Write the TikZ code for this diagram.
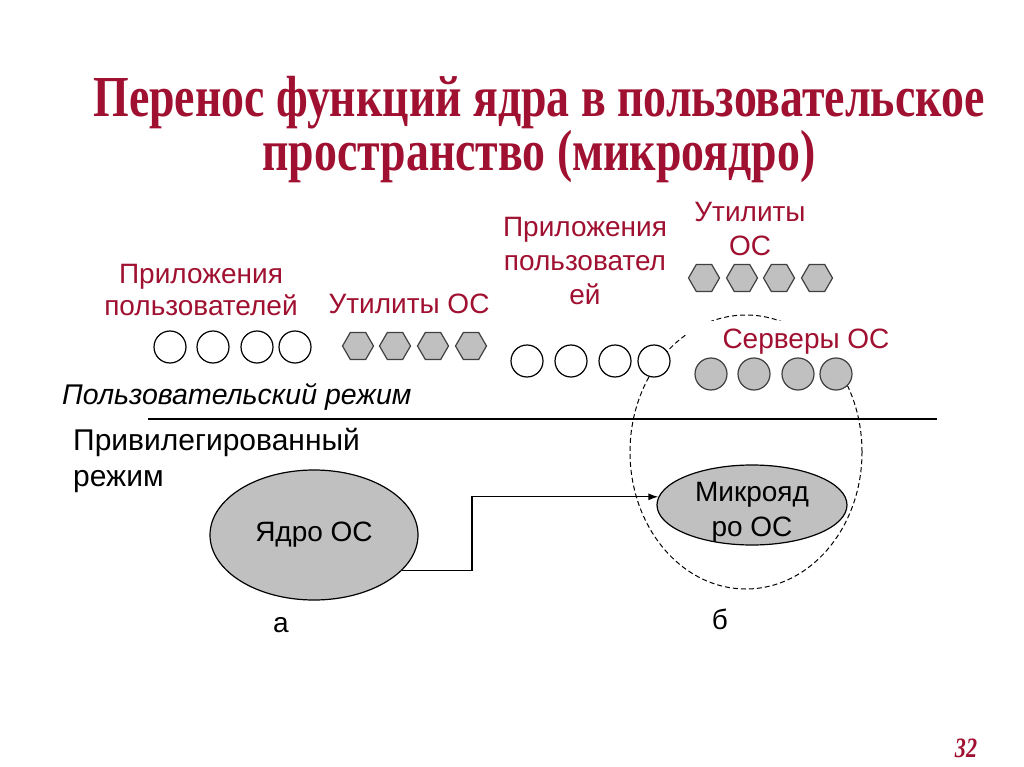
\documentclass[tikz,border=0pt]{standalone}
\usepackage{fontspec}
\setmainfont{Liberation Sans}
\newfontfamily\titlefont[FakeStretch=0.79]{Liberation Serif}
\usetikzlibrary{shapes.geometric}
\usetikzlibrary{positioning}
\usetikzlibrary{arrows.meta}

\definecolor{slidered}{RGB}{160,16,48}
\definecolor{shapegray}{RGB}{192,192,192}
\definecolor{edgegray}{RGB}{64,64,64}

\tikzset{
  usrapp/.style={circle,draw=black,line width=1.2pt,fill=white,minimum size=32,inner sep=0},
  osserver/.style={circle,draw=edgegray,line width=1.2pt,fill=shapegray,minimum size=32,inner sep=0},
  osutil/.style={regular polygon,regular polygon sides=6,draw=edgegray,line width=1.2pt,fill=shapegray,minimum size=31,inner sep=0},
  titletxt/.style={font=\titlefont\bfseries\fontsize{58}{58}\selectfont,text=slidered,anchor=base,inner sep=0},
  redlbl/.style={text=slidered,font=\fontsize{28}{34}\selectfont,align=center,inner sep=0},
  blacklbl/.style={font=\fontsize{28}{35}\selectfont,align=left,inner sep=0},
  kernel/.style={ellipse,draw=black,line width=1.2pt,fill=shapegray,inner sep=0,font=\fontsize{28}{34}\selectfont,align=center}
}

\begin{document}
\begin{tikzpicture}[x=1pt,y=-1pt]
\useasboundingbox[fill=white] (0,0) rectangle (1024,767);

% title
\node[titletxt] (title) at (539,117) {Перенос функций ядра в пользовательское};
\node[titletxt] (title2) at (539,171) {пространство (микроядро)};

% zone of the microkernel (drawn first, the rest covers it)
\node[ellipse,draw=black,line width=1pt,dash pattern=on 5pt off 3pt,minimum width=232,minimum height=274,inner sep=0] (zone) at (746,452) {};

% a: applications and utilities
\node[redlbl,font=\fontsize{28}{32}\selectfont] (appsA) at (201,290) {Приложения\\пользователей};
\node[redlbl] (utilsA) at (409,304) {Утилиты ОС};
\node[usrapp] (appA1) at (170,347) {};
\node[usrapp] (appA2) at (213,347) {};
\node[usrapp] (appA3) at (257,347) {};
\node[usrapp] (appA4) at (295,347) {};
\node[osutil] (utilA1) at (358,346) {};
\node[osutil] (utilA2) at (395,346) {};
\node[osutil] (utilA3) at (433,346) {};
\node[osutil] (utilA4) at (471,346) {};

% b: applications, utilities and servers
\node[redlbl] (appsB) at (585,261) {Приложения\\пользовател\\ей};
\node[redlbl] (utilsB) at (750,229) {Утилиты\\ОС};
\node[redlbl,fill=white,minimum width=240,minimum height=42] (serversB) at (806,342) {Серверы ОС};
\node[usrapp] (appB1) at (527,361) {};
\node[usrapp] (appB2) at (571,361) {};
\node[usrapp] (appB3) at (615,361) {};
\node[usrapp] (appB4) at (654,361) {};
\node[osutil] (utilB1) at (704,278) {};
\node[osutil] (utilB2) at (742,278) {};
\node[osutil] (utilB3) at (779,278) {};
\node[osutil] (utilB4) at (817,278) {};
\node[osserver] (srvB1) at (711,374) {};
\node[osserver] (srvB2) at (754,374) {};
\node[osserver] (srvB3) at (798,374) {};
\node[osserver] (srvB4) at (836,374) {};

% modes
\node[blacklbl,font=\itshape\fontsize{28.5}{34}\selectfont,anchor=west] (usermode) at (62,397) {Пользовательский режим};
\coordinate (lineL) at (148,419);
\coordinate (lineR) at (937,419);
\draw[line width=1.3pt] (lineL) -- (lineR);
\node[blacklbl,font=\fontsize{30}{36}\selectfont,anchor=west] (privmode) at (73,460) {Привилегированный\\режим};

% kernels
\node[kernel,minimum width=208,minimum height=130] (core) at (314,535) {Ядро ОС};
\node[kernel,minimum width=190,minimum height=80] (micro) at (752,505) {};
\node[blacklbl,align=center] (microtxt) at ([yshift=-7pt]micro.center) {Микрояд\\ро ОС};
\draw[line width=1.3pt,-{Latex[length=10pt,width=7pt]}] (core.-22) -- ++(70,0) |- (micro.175);

\node[blacklbl] (capA) at (281,625) {а};
\node[blacklbl] (capB) at (720,619) {б};

\node[font=\titlefont\bfseries\itshape\fontsize{28}{28}\selectfont,text=slidered] (pagenum) at (966,748) {32};
\end{tikzpicture}
\end{document}
